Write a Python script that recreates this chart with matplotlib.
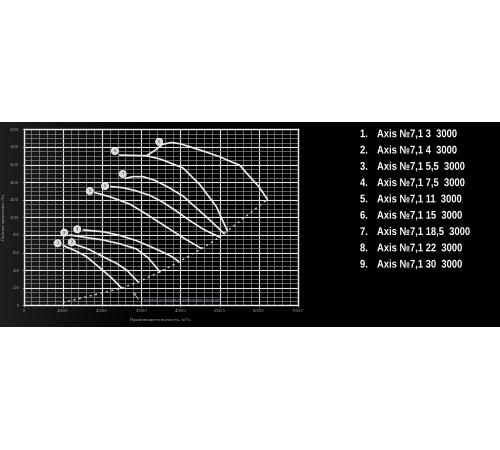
import numpy as np
import matplotlib
matplotlib.use('agg')
import matplotlib.pyplot as plt
from matplotlib.ticker import MultipleLocator
from matplotlib.textpath import TextPath
from matplotlib.patches import PathPatch
from matplotlib.font_manager import FontProperties
from matplotlib.transforms import Affine2D

plt.rcParams['font.family'] = ['DejaVu Sans']

# fan curves: flow (m3/h) and total pressure (Pa)
flow_1 = [10100, 13000, 16000, 19500, 22500, 25000]
press_1 = [680, 625, 555, 425, 310, 195]
flow_2 = [13100, 16500, 20300, 23700, 26300, 29250]
press_2 = [693, 640, 552, 477, 401, 265]
flow_3 = [11850, 16000, 20300, 24500, 28800, 31800, 34800]
press_3 = [799, 770, 742, 700, 640, 540, 380]
flow_4 = [15240, 20300, 24500, 28800, 32500, 35500, 37800, 39700]
press_4 = [856, 836, 795, 735, 665, 605, 555, 495]
flow_5 = [18200, 22000, 27100, 30500, 34000, 37500, 41000, 45400]
press_5 = [1280, 1234, 1150, 1060, 960, 860, 760, 645]
flow_6 = [22300, 25500, 28800, 32200, 35600, 39000, 42500, 46000, 50000]
press_6 = [1350, 1335, 1300, 1250, 1170, 1070, 960, 860, 775]
flow_7 = [25900, 28000, 30500, 33500, 37000, 40700, 44000, 47500, 51200]
press_7 = [1443, 1462, 1462, 1420, 1340, 1240, 1110, 970, 812]
flow_8 = [24500, 31400, 35000, 40700, 45000, 49200, 52000]
press_8 = [1707, 1700, 1660, 1560, 1370, 1120, 845]
flow_9 = [31400, 33500, 35500, 37750, 40000, 42400, 46000, 50000, 53000, 55100,
          57700, 60000, 62200]
press_9 = [1700, 1760, 1830, 1850, 1835, 1802, 1750, 1689, 1630, 1594,
           1461, 1350, 1204]

flows = [flow_1, flow_2, flow_3, flow_4, flow_5, flow_6, flow_7, flow_8, flow_9]
presses = [press_1, press_2, press_3, press_4, press_5, press_6, press_7,
           press_8, press_9]

# curve number markers
label_flow = [8700, 12300, 10400, 13700, 16900, 20800, 25300, 23300, 34600]
label_press = [705, 716, 825, 864, 1299, 1356, 1492, 1753, 1859]

# stall line (dotted)
stall_flow = [10000, 25000, 29250, 34800, 39700, 45400, 50000, 52000, 62200]
stall_press = [30, 195, 265, 380, 495, 645, 775, 845, 1204]

legend_items = ['Axis №7,1 3  3000', 'Axis №7,1 4  3000',
                'Axis №7,1 5,5  3000', 'Axis №7,1 7,5  3000',
                'Axis №7,1 11  3000', 'Axis №7,1 15  3000',
                'Axis №7,1 18,5  3000', 'Axis №7,1 22  3000',
                'Axis №7,1 30  3000']

W, H = 500, 450
fig = plt.figure(figsize=(5, 4.5), dpi=100)
fig.patch.set_facecolor('white')

# black band with a soft grey glow on the left
bg = fig.add_axes([0, 1 - 327 / H, 1, 205 / H])
grad = np.linspace(0, 1, 500)
shade = np.clip(0.12 - 0.4 * grad, 0, None)
bg.imshow(np.tile(shade, (10, 1)), cmap='gray', vmin=0, vmax=1,
          aspect='auto', extent=[0, 1, 0, 1])
bg.set_axis_off()

ax = fig.add_axes([23.5 / W, 1 - 305.3 / H, 274.5 / W, 176 / H])
ax.set_facecolor('none')
ax.set_xlim(0, 70000)
ax.set_ylim(0, 2000)
ax.xaxis.set_major_locator(MultipleLocator(10000))
ax.xaxis.set_minor_locator(MultipleLocator(2000))
ax.yaxis.set_major_locator(MultipleLocator(200))
ax.yaxis.set_minor_locator(MultipleLocator(50))
ax.grid(which='major', color='#e6e6e6', lw=0.8)
ax.grid(which='minor', color='#8c8c8c', lw=0.5)
ax.set_axisbelow(True)
for s in ax.spines.values():
    s.set_color('#f0f0f0')
    s.set_linewidth(1.0)
ax.tick_params(which='major', colors='#9a9a9a', labelsize=2.6, length=1.5,
               width=0.5, pad=1.5)
ax.tick_params(which='minor', length=0)
ax.set_xlabel('Производительность, м³/ч', color='#b0b0b0', fontsize=3.2,
              labelpad=3)
ax.set_ylabel('Полное давление, Па', color='#b0b0b0', fontsize=3.0,
              labelpad=3)

for fx, py in zip(flows, presses):
    ax.plot(fx, py, color='#ededed', lw=1.2, solid_capstyle='round',
            solid_joinstyle='round', zorder=3)

ax.plot(stall_flow, stall_press, color='#d0d0d0', lw=1.0,
        linestyle=(0, (1.5, 2.5)), zorder=3)

for i, (lx, ly) in enumerate(zip(label_flow, label_press)):
    ax.text(lx, ly, str(i + 1), fontsize=2.8, color='#303030',
            ha='center', va='center', zorder=5,
            bbox=dict(boxstyle='circle,pad=0.4', fc='#d8d8d8',
                      ec='white', lw=0.5))

ax.annotate('', xy=(27600, 175), xytext=(29700, 40),
            arrowprops=dict(arrowstyle='->', color='#c0c0c0', lw=0.6,
                            mutation_scale=4), zorder=4)
ax.text(30300, 60, 'Граница устойчивой работы вентилятора', fontsize=2.5,
        color='#8ea0b8', va='center', ha='left', zorder=4)

# legend list on the right, slightly condensed bold sans
legend_fp = FontProperties(family='Liberation Sans', weight='bold')
to_fig = Affine2D().scale(1 / W, 1 / H) + fig.transFigure


def put_text(s, x_px, base_px):
    tp = TextPath((0, 0), s, size=11.2, prop=legend_fp)
    tr = Affine2D().scale(0.84, 1).translate(x_px, H - base_px) + to_fig
    fig.add_artist(PathPatch(tp, transform=tr, fc='white', ec='none', lw=0))


for i, item in enumerate(legend_items):
    base = 137.2 + i * 16.3
    put_text('%d.' % (i + 1), 360, base)
    put_text(item, 377, base)

fig.savefig('out.png', dpi=100, facecolor=fig.get_facecolor())
